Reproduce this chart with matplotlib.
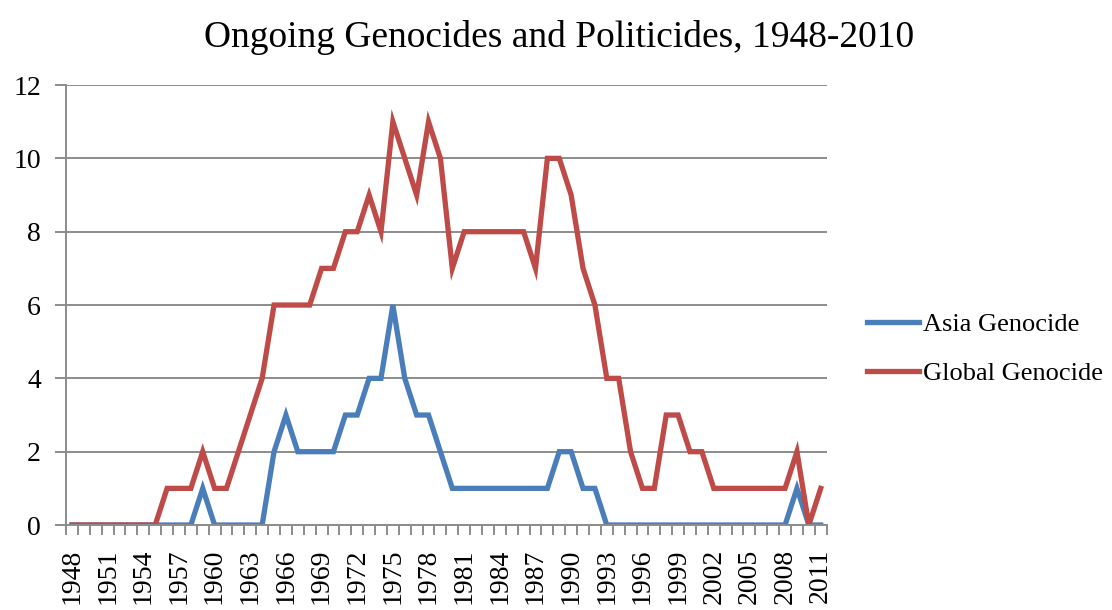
import matplotlib
matplotlib.use("Agg")
import matplotlib.pyplot as plt
import numpy as np

years = list(range(1948, 2012))

asia = [0, 0, 0, 0, 0, 0, 0, 0, 0, 0, 0,       # 1948-1958
        1, 0, 0, 0, 0, 0,                        # 1959-1964
        2, 3, 2, 2, 2, 2, 3, 3, 4, 4, 6, 4, 3, 3, 2,  # 1965-1979
        1, 1, 1, 1, 1, 1, 1, 1, 1,               # 1980-1988
        2, 2, 1, 1,                              # 1989-1992
        0, 0, 0, 0, 0, 0, 0, 0, 0, 0, 0, 0, 0, 0, 0, 0,  # 1993-2008
        1, 0, 0]                                 # 2009-2011

global_ = [0, 0, 0, 0, 0, 0, 0, 0,               # 1948-1955
           1, 1, 1, 2, 1, 1, 2, 3, 4, 6, 6, 6, 6, 7, 7, 8, 8, 9, 8,
           11, 10, 9, 11, 10, 7,                 # 1975-1980
           8, 8, 8, 8, 8, 8,                     # 1981-1986
           7, 10, 10, 9, 7, 6, 4, 4, 2, 1, 1, 3, 3, 2, 2,  # 1987-2001
           1, 1, 1, 1, 1, 1, 1,                  # 2002-2008
           2, 0, 1]                              # 2009-2011

series_names = ["Asia Genocide", "Global Genocide"]
colors = ["#4A7EBB", "#BE4B48"]

serif = "Liberation Serif"
fig = plt.figure(figsize=(11.12, 6.10), dpi=100)
ax = fig.add_axes([0.0594, 0.1393, 0.6840, 0.7213])

x = np.arange(len(years))
ax.plot(x, asia, color=colors[0], lw=3.8, label=series_names[0], solid_joinstyle="miter")
ax.plot(x, global_, color=colors[1], lw=3.8, label=series_names[1], solid_joinstyle="miter")

ax.set_xlim(-0.5, len(years) - 0.5)
ax.set_ylim(0, 12)
ax.set_yticks(range(0, 13, 2))
ax.set_yticklabels([str(v) for v in range(0, 13, 2)], fontsize=20, family=serif)
ax.yaxis.grid(True, color="#8c8c8c", lw=1.4)
ax.set_axisbelow(True)

lab_idx = list(range(0, len(years), 3))
ax.set_xticks(lab_idx)
ax.set_xticklabels([str(years[i]) for i in lab_idx], rotation=90, fontsize=20, family=serif)
ax.set_xticks(np.arange(-0.5, len(years), 1), minor=True)
ax.tick_params(axis="x", which="major", length=0, pad=17)
ax.tick_params(axis="x", which="minor", length=7, width=1.4, color="#8c8c8c")
ax.tick_params(axis="y", length=8, width=1.4, color="#8c8c8c", pad=10)

for s in ["top", "right"]:
    ax.spines[s].set_visible(False)
for s in ["left", "bottom"]:
    ax.spines[s].set_color("#8c8c8c")
    ax.spines[s].set_linewidth(1.4)

fig.text(0.503, 0.938, "Ongoing Genocides and Politicides, 1948-2010",
         ha="center", va="center", fontsize=27, family=serif)

fig.legend(loc="center left", bbox_to_anchor=(0.758, 0.428), frameon=False,
           prop={"family": serif, "size": 19}, handlelength=2.0,
           handletextpad=0.15, labelspacing=0.95)

fig.savefig("out.png", dpi=100)
